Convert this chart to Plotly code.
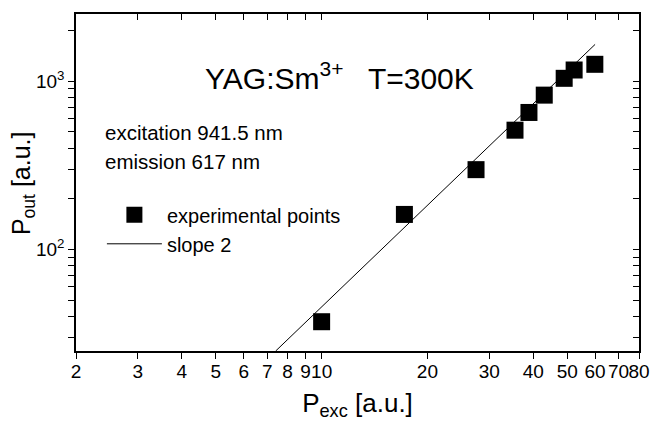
import math
import plotly.graph_objects as go

# Data
p_exc = [10.0, 17.2, 27.5, 35.5, 38.9, 43.0, 49.0, 52.3, 59.9]
p_out = [37.3, 161.6, 298, 511, 651, 825, 1038, 1163, 1257]

slope_x = [7.4, 60.0]
slope_y = [25, 1650]

x_tickvals = [2, 3, 4, 5, 6, 7, 8, 9, 10, 20, 30, 40, 50, 60, 70, 80]
x_ticktext = ["2", "3", "4", "5", "6", "7", "8", "9", "10", "20", "30", "40", "50", "60", "70", "80"]
y_tickvals = [30, 40, 50, 60, 70, 80, 90, 100, 200, 300, 400, 500, 600, 700, 800, 900, 1000, 2000]
y_ticktext = ["", "", "", "", "", "", "", "10<sup>2</sup>", "", "", "", "", "", "", "", "",
              "10<sup>3</sup>", ""]

x_range = [2, 80]
y_range = [25, 2500]

FONT = "Liberation Sans, Arial, sans-serif"

xr = [math.log10(v) for v in x_range]
yr = [math.log10(v) for v in y_range]

fig = go.Figure()
fig.add_trace(go.Scatter(
    x=p_exc, y=p_out, mode="markers", name="experimental points",
    marker=dict(symbol="square", size=17, color="black", line=dict(width=0)),
))
fig.add_trace(go.Scatter(
    x=slope_x, y=slope_y, mode="lines", name="slope 2",
    line=dict(color="black", width=1),
))
# empty trace to activate the mirrored (inside-tick) axes
fig.add_trace(go.Scatter(x=[None], y=[None], xaxis="x2", yaxis="y2",
                         showlegend=False, hoverinfo="skip"))

axis_common = dict(showgrid=False, zeroline=False, showline=True,
                   linecolor="black", linewidth=1.5, tickcolor="black",
                   tickwidth=1.2, automargin=False)

fig.update_layout(
    width=651, height=421,
    margin=dict(l=76, r=12, t=14, b=70),
    paper_bgcolor="white", plot_bgcolor="white",
    font=dict(family=FONT, color="black", size=19),
    showlegend=True,
    legend=dict(x=0.046, y=0.462, xanchor="left", yanchor="top",
                bgcolor="rgba(0,0,0,0)", font=dict(size=20), itemwidth=55,
                tracegroupgap=0),
    xaxis=dict(type="log", range=xr, tickmode="array", tickvals=x_tickvals,
               ticktext=x_ticktext, ticks="outside", ticklen=6, tickangle=0,
               ticklabelstandoff=-4,
               title=dict(text="P<sub>exc</sub> [a.u.]",
                          font=dict(size=26), standoff=14),
               tickfont=dict(size=19), **axis_common),
    yaxis=dict(type="log", range=yr, tickmode="array", tickvals=y_tickvals,
               ticktext=y_ticktext, ticks="outside", ticklen=6,
               tickfont=dict(size=19), **axis_common),
    xaxis2=dict(type="log", range=xr, overlaying="x", side="top", anchor="y",
                tickmode="array", tickvals=x_tickvals, ticks="inside", ticklen=6,
                showticklabels=False, **axis_common),
    yaxis2=dict(type="log", range=yr, overlaying="y", side="right", anchor="x",
                tickmode="array", tickvals=y_tickvals, ticks="inside", ticklen=6,
                showticklabels=False, **axis_common),
    annotations=[
        dict(text="P<sub>out</sub> [a.u.]", xref="paper", yref="paper",
             x=-0.094, y=0.4985, xanchor="center", yanchor="middle",
             textangle=-90, showarrow=False, font=dict(size=25)),
        dict(text="YAG:Sm<sup>3+</sup>   T=300K", xref="paper", yref="paper",
             x=0.2256, y=0.817, xanchor="left", yanchor="middle",
             showarrow=False, font=dict(size=30)),
        dict(text="excitation 941.5 nm", xref="paper", yref="paper",
             x=0.048, y=0.647, xanchor="left", yanchor="middle",
             showarrow=False, font=dict(size=20.5)),
        dict(text="emission 617 nm", xref="paper", yref="paper",
             x=0.048, y=0.562, xanchor="left", yanchor="middle",
             showarrow=False, font=dict(size=20.5)),
    ],
)

fig.write_html("out.html")
